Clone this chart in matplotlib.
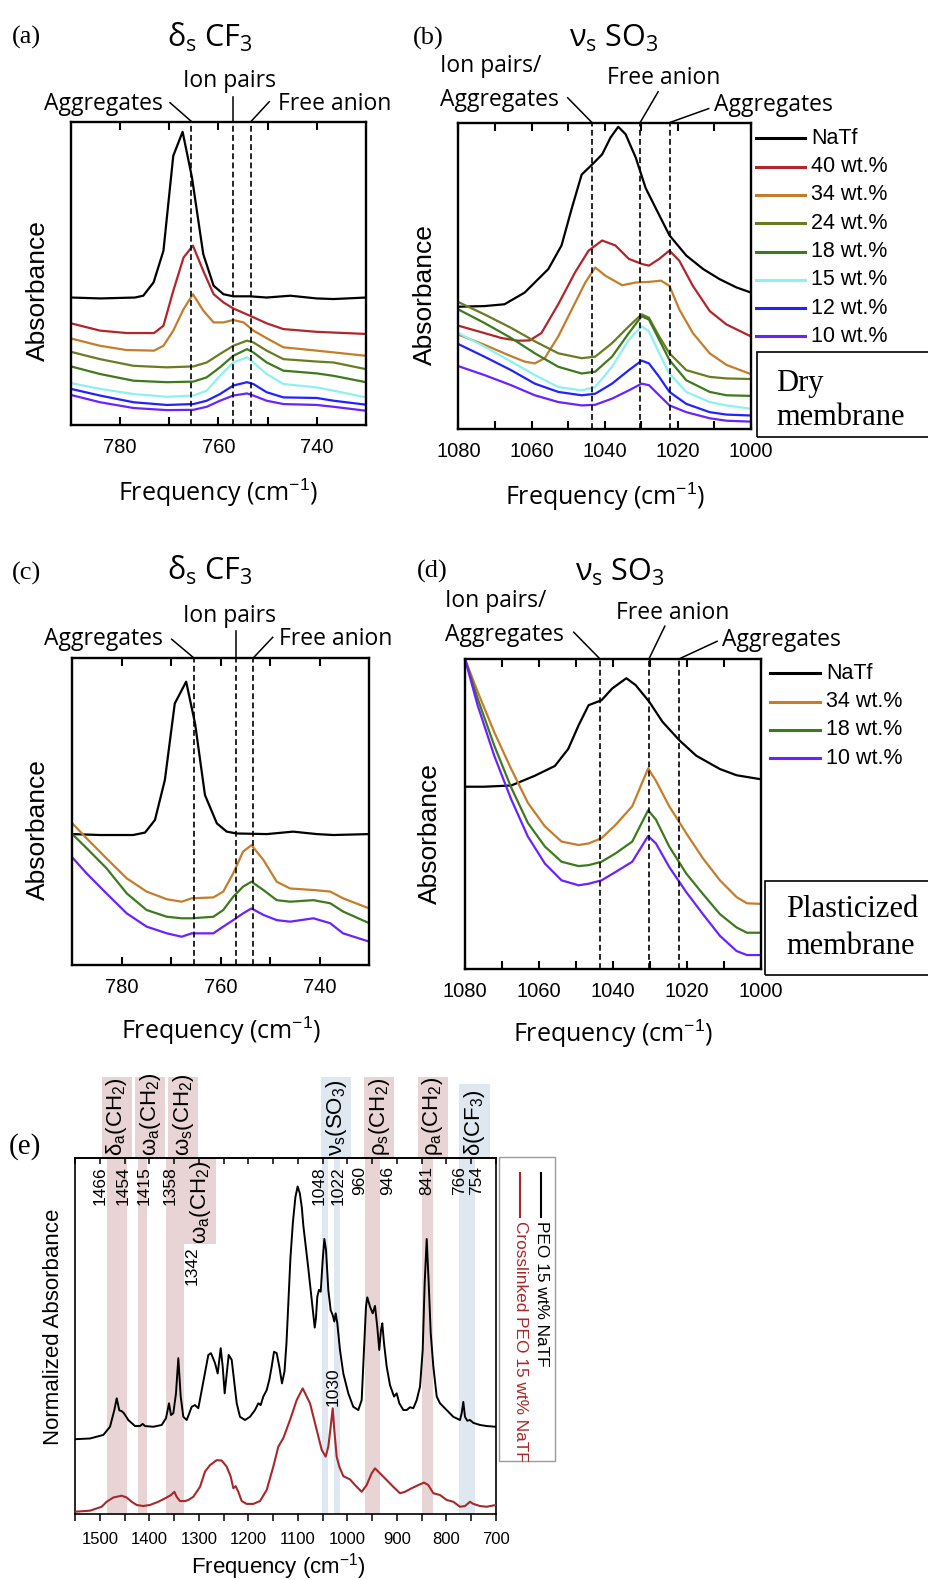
import matplotlib
matplotlib.use("Agg")
import matplotlib.pyplot as plt
import matplotlib.transforms as mtransforms
from matplotlib.patches import Rectangle
from matplotlib.lines import Line2D

plt.rcParams['font.family'] = ['Liberation Sans', 'DejaVu Sans']
plt.rcParams['mathtext.fontset'] = 'custom'
plt.rcParams['mathtext.rm'] = 'Liberation Sans'
plt.rcParams['mathtext.it'] = 'Liberation Sans:italic'
plt.rcParams['mathtext.bf'] = 'Liberation Sans:bold'
plt.rcParams['mathtext.sf'] = 'Liberation Sans'

# ------------------------------------------------------------------ data
# Panel (a): dry membrane, delta_s CF3 (frequency cm-1, absorbance a.u.)
a_x_natf = [790, 784, 777, 775.3, 773.2, 771.2, 769.2, 767.3, 765.4, 763.1, 761, 759, 757, 753.6, 750.2, 745.4, 740, 736.6, 730]
a_y_natf = [42.0, 41.7, 42.0, 42.6, 47.0, 57.4, 88.7, 96.6, 81.6, 56.3, 45.9, 43.1, 42.4, 42.4, 42.0, 42.6, 41.7, 41.5, 42.0]
a_x_40 = [790, 784.1, 778.7, 773.1, 771.2, 769.2, 767.1, 765.2, 763.1, 761, 759, 757, 753.6, 750.2, 746.8, 740, 730]
a_y_40 = [33.5, 31.1, 30.3, 30.3, 32.7, 44.2, 55.2, 59.1, 50.8, 43.1, 40.4, 38.4, 36.0, 33.5, 31.6, 30.7, 30.0]
a_x_34 = [790, 784.1, 778.7, 773.1, 771.2, 769.2, 767.1, 765.2, 763.1, 761.0, 759.0, 757.0, 754.9, 752.9, 750.2, 746.8, 740.0, 730]
a_y_34 = [28.5, 26.1, 24.7, 24.5, 26.1, 31.1, 38.2, 43.1, 37.7, 33.8, 33.8, 34.6, 33.8, 31.1, 28.6, 25.6, 24.5, 22.8]
a_x_low = [790, 784.1, 777.3, 770.5, 765.1, 762.4, 759.7, 757.0, 754.2, 752.9, 750.2, 746.8, 740.0, 736.6, 730]
a_y_24 = [24.1, 21.7, 19.5, 19.0, 19.3, 20.6, 23.4, 26.1, 27.8, 27.2, 24.5, 21.7, 20.9, 20.6, 18.4]
a_y_18 = [19.3, 16.8, 14.6, 14.1, 14.3, 15.7, 19.0, 22.8, 25.0, 23.9, 20.6, 17.9, 17.0, 16.2, 14.1]
a_y_15 = [13.8, 11.9, 10.2, 9.3, 9.7, 11.3, 16.2, 20.6, 22.3, 20.6, 16.8, 13.5, 12.4, 11.3, 9.1]
a_y_12 = [11.9, 9.7, 7.5, 6.6, 6.9, 8.0, 10.2, 13.0, 14.1, 13.5, 10.8, 9.1, 8.9, 8.0, 6.7]
a_y_10 = [9.9, 7.5, 5.6, 4.9, 5.0, 6.0, 8.0, 9.7, 10.4, 9.7, 8.0, 6.9, 6.6, 6.0, 4.7]

# Panel (b): dry membrane, nu_s SO3
b_x_natf = [1080, 1072.9, 1067.4, 1061.9, 1055.4, 1051.8, 1049.0, 1046.3, 1043.0, 1040.7, 1038.4, 1036.3, 1034.3, 1031.5, 1028.8, 1025.1, 1022.3, 1017.7, 1013.1, 1008.6, 1004.0, 1000]
b_y_natf = [39.9, 40.1, 40.7, 44.5, 52.2, 59.9, 72.0, 83.0, 86.8, 89.6, 95.1, 98.6, 96.2, 88.5, 78.6, 69.8, 63.2, 56.6, 52.2, 48.9, 46.2, 44.5]
b_x_40 = [1080, 1072.9, 1068.3, 1063.7, 1060.5, 1057.3, 1052.7, 1048.1, 1044.4, 1040.7, 1037.1, 1033.4, 1029.7, 1027.9, 1025.1, 1022.3, 1019.6, 1015.9, 1011.3, 1006.7, 1000]
b_y_40 = [33.7, 31.3, 29.7, 28.8, 28.9, 31.3, 40.7, 51.1, 58.2, 61.5, 59.9, 55.5, 53.8, 53.3, 55.5, 58.2, 54.9, 46.7, 38.5, 34.1, 30.2]
b_x_34 = [1080, 1072.9, 1066.5, 1061.9, 1059.1, 1056.4, 1052.7, 1049.0, 1045.3, 1042.6, 1039.8, 1035.2, 1031.5, 1027.9, 1024.6, 1022.3, 1019.6, 1015.9, 1011.3, 1006.7, 1000]
b_y_34 = [30.8, 27.5, 24.2, 22.0, 21.4, 23.1, 30.2, 39.0, 47.8, 52.7, 50.0, 46.9, 47.8, 48.0, 48.4, 46.7, 39.0, 31.3, 24.7, 20.9, 17.9]
b_x_low = [1080, 1072.9, 1065.6, 1059.1, 1052.7, 1046.3, 1042.6, 1038.0, 1033.4, 1029.9, 1027.9, 1025.1, 1022.3, 1017.7, 1011.3, 1006.7, 1000]
b_y_24 = [41.4, 37.4, 33.0, 28.6, 24.7, 23.1, 23.6, 28.0, 33.5, 37.4, 36.3, 30.2, 24.7, 19.2, 17.0, 16.5, 16.3]
b_y_18 = [39.0, 34.6, 29.7, 24.7, 20.3, 18.1, 18.7, 23.6, 31.3, 36.8, 35.7, 29.1, 22.5, 15.9, 12.1, 11.0, 10.8]
b_y_15 = [31.3, 26.9, 22.0, 17.6, 13.7, 12.6, 13.7, 20.3, 29.1, 33.5, 31.9, 24.7, 18.1, 12.1, 8.8, 7.7, 6.6]
b_y_12 = [27.7, 23.6, 19.2, 14.8, 12.1, 11.0, 11.5, 14.8, 19.2, 22.3, 21.4, 17.0, 12.1, 8.2, 5.5, 4.7, 4.4]
b_y_10 = [20.5, 17.6, 14.3, 11.0, 8.8, 7.7, 7.9, 9.9, 12.6, 14.8, 14.3, 11.0, 7.7, 5.5, 3.5, 2.7, 2.4]

# Panel (c): plasticized membrane, delta_s CF3
c_x_natf = [790, 784.4, 777.7, 775.3, 773.3, 771.3, 769.3, 767.0, 765.2, 763.2, 760.8, 758.8, 756.8, 750.7, 745.4, 740.6, 737.3, 730]
c_y_natf = [42.6, 42.3, 42.3, 43.1, 47.2, 60.2, 85.1, 92.2, 78.6, 55.3, 46.1, 43.4, 42.8, 42.6, 43.4, 42.6, 42.3, 42.6]
c_x_low = [790, 787.1, 783.1, 779.0, 775.0, 770.9, 767.9, 765.9, 761.5, 759.5, 757.5, 755.5, 753.8, 751.4, 748.7, 746.0, 741.3, 737.9, 735.3, 730]
c_y_34 = [46.1, 41.2, 34.7, 28.2, 23.9, 21.4, 20.6, 21.7, 22.0, 23.9, 29.8, 36.9, 39.0, 34.2, 27.1, 24.9, 24.4, 23.9, 21.7, 18.4]
c_y_18 = [42.6, 38.0, 31.5, 23.3, 17.9, 15.7, 15.2, 15.2, 15.7, 17.9, 22.2, 25.5, 27.1, 24.4, 21.1, 20.6, 21.1, 20.1, 17.4, 13.6]
c_y_10 = [35.0, 29.8, 23.3, 16.8, 12.5, 10.3, 9.2, 10.3, 10.3, 12.5, 14.6, 16.8, 18.4, 16.3, 14.6, 14.1, 15.2, 13.6, 10.3, 7.6]

# Panel (d): plasticized membrane, nu_s SO3
d_x_natf = [1080, 1074.8, 1067.5, 1061.2, 1055.7, 1052.1, 1049.3, 1046.6, 1043.1, 1040.2, 1036.4, 1033.9, 1030.2, 1026.6, 1022.0, 1017.5, 1011.1, 1006.6, 1000]
d_y_natf = [58.8, 58.8, 59.2, 62.3, 65.5, 71.0, 78.6, 85.1, 86.7, 90.5, 93.8, 91.6, 86.2, 79.7, 73.7, 68.8, 64.5, 62.5, 61.2]
d_x_low = [1080, 1076.6, 1072.1, 1067.5, 1063.0, 1058.4, 1053.9, 1049.3, 1046.6, 1043.1, 1039.3, 1034.8, 1030.5, 1028.4, 1024.8, 1020.2, 1015.7, 1011.1, 1006.6, 1003.8, 1000]
d_y_34 = [100, 89.5, 76.4, 64.5, 53.6, 46.0, 41.1, 40.0, 40.5, 42.2, 46.5, 52.5, 64.7, 60.7, 52.5, 43.8, 35.7, 28.6, 23.2, 21.2, 21.0]
d_y_18 = [100, 87.3, 72.1, 58.5, 47.1, 39.5, 34.6, 33.2, 33.5, 34.6, 37.3, 41.1, 51.2, 48.2, 39.5, 30.8, 24.2, 17.7, 13.4, 11.7, 11.7]
d_y_10 = [100, 85.1, 68.8, 54.7, 42.7, 34.0, 28.6, 27.0, 27.5, 28.6, 31.3, 34.6, 42.9, 40.5, 32.9, 24.8, 17.7, 10.7, 5.8, 4.5, 4.5]

# Panel (e): full spectra (frequency, normalized absorbance) as (x, y) pairs
e_peo = [(1550, 20.9), (1519.7, 21.1), (1492.8, 22.1), (1479.3, 24.4), (1470.6, 29.1), (1465.8, 32.4),
         (1460.5, 29.0), (1455.8, 28.8), (1451.1, 28.2), (1442.4, 26.3), (1428.9, 24.6), (1418.8, 24.6),
         (1413.4, 25.2), (1408.7, 24.6), (1391.9, 24.4), (1375.0, 24.9), (1366.3, 26.8), (1360.2, 31.0),
         (1356.2, 27.7), (1351.5, 28.2), (1346.1, 33.8), (1341.4, 43.7), (1336.6, 32.9), (1331.3, 27.2),
         (1324.5, 26.3), (1319.2, 28.2), (1314.5, 30.0), (1307.7, 30.5), (1301.0, 29.6), (1290.9, 37.1),
         (1280.8, 44.6), (1275.4, 45.1), (1267.3, 42.3), (1261.9, 39.4), (1255.8, 46.5), (1251.8, 41.3),
         (1247.8, 33.8), (1243.7, 39.4), (1239.7, 44.6), (1233.6, 43.2), (1228.9, 37.6), (1223.5, 31.0),
         (1216.9, 27.2), (1206.8, 26.3), (1196.7, 27.2), (1186.6, 29.1), (1179.9, 31.0), (1175.1, 30.5),
         (1169.8, 32.9), (1163.0, 34.7), (1157.7, 37.6), (1152.9, 41.3), (1148.2, 45.5), (1142.8, 45.1),
         (1137.5, 41.3), (1132.1, 36.6), (1127, 40), (1123, 48), (1119, 60), (1115, 72), (1110, 82),
         (1105, 89), (1100.5, 92), (1096, 90), (1092, 86), (1089, 81), (1084, 75), (1079, 69), (1072, 60),
         (1066, 52.3), (1063.5, 55), (1060.8, 61.0), (1057.4, 62.9), (1053.9, 62.4), (1049.9, 71.3),
         (1046.6, 77.2), (1043.2, 74.1), (1038.6, 62.9), (1033.8, 57.2), (1029.7, 55.8), (1026.5, 54.0),
         (1023.7, 56.3), (1020.4, 53.5), (1015.0, 46.0), (1008.3, 39.4), (998.2, 33.8), (988.1, 30.0),
         (978.0, 29.1), (971.2, 31.9), (966.5, 46.0), (962.5, 58.2), (959.9, 60.8), (954.4, 58.2),
         (949.0, 56.3), (944.3, 58.4), (939.7, 52.5), (935.7, 46.0), (932.2, 51.6), (929.6, 53.5),
         (926.1, 47.9), (920.7, 41.3), (914.0, 36.1), (905.9, 32.9), (900.5, 33.8), (895.2, 31.0),
         (887.1, 29.1), (880.4, 29.1), (873.6, 29.9), (866.9, 29.6), (860.1, 31.9), (853.4, 35.7),
         (848.0, 46.0), (844.0, 64.8), (839.9, 77.2), (835.9, 64.8), (831.8, 50.7), (826.5, 41.3),
         (819.7, 32.9), (813.1, 31.0), (799.6, 29.1), (786.2, 27.2), (772.7, 26.3), (769.3, 28.2),
         (766.0, 31.4), (762.6, 27.2), (758.0, 26.1), (752.5, 26.3), (745.8, 25.5), (732.3, 24.9),
         (718.8, 24.6), (700, 24.4)]
e_xl = [(1550, 0.5), (1519.7, 0.8), (1496.2, 1.9), (1486.1, 3.3), (1472.6, 4.5), (1455.8, 5.0),
        (1445.7, 4.5), (1435.6, 3.3), (1425.5, 2.4), (1412.1, 2.1), (1398.6, 2.4), (1381.8, 3.3),
        (1364.9, 4.5), (1356.2, 5.2), (1349.4, 6.1), (1344.7, 4.7), (1338.0, 3.5), (1327.9, 3.5),
        (1321.2, 3.8), (1311.1, 4.7), (1297.6, 7.5), (1287.5, 11.8), (1277.4, 13.6), (1264.0, 15.0),
        (1253.9, 14.9), (1243.8, 13.2), (1235.7, 10.4), (1230.3, 7.1), (1225.6, 7.7), (1220.2, 6.1),
        (1213.5, 3.5), (1203.4, 2.7), (1189.9, 2.7), (1176.5, 3.5), (1163.0, 6.6), (1149.6, 13.2),
        (1139.5, 18.8), (1129.4, 21.2), (1115.9, 26.3), (1102.4, 31.9), (1090.3, 35.2), (1075.5, 31.0),
        (1062.0, 23.5), (1051.9, 17.9), (1043.9, 16.0), (1038.6, 18.8), (1033.8, 24.4), (1029.7, 29.6),
        (1026.5, 23.5), (1021.7, 16.0), (1016.4, 13.2), (1008.3, 10.5), (994.8, 9.6), (984.7, 8.0),
        (971.2, 6.1), (961.2, 8.0), (951.1, 11.3), (944.3, 12.7), (934.2, 11.3), (920.7, 9.4),
        (907.3, 7.5), (893.9, 5.7), (883.8, 6.1), (870.3, 7.1), (856.8, 8.0), (845.4, 8.7),
        (836.7, 8.0), (826.5, 5.7), (813.1, 5.2), (799.6, 3.8), (786.2, 3.3), (772.7, 1.9),
        (762.6, 2.1), (752.5, 3.3), (745.8, 2.7), (732.3, 2.1), (718.8, 1.9), (700, 2.4)]

# assignment bands of panel (e): (low, high) in cm-1
e_band_pink = [(1445, 1485), (1405, 1422), (1330, 1366), (934, 964), (827, 850)]
e_band_blue = [(1039, 1052), (1015, 1028), (743, 774)]
e_lab_text = [r'δ$_\mathregular{a}$(CH$_\mathregular{2}$)', r'ω$_\mathregular{a}$(CH$_\mathregular{2}$)',
              r'ω$_\mathregular{s}$(CH$_\mathregular{2}$)', r'ν$_\mathregular{s}$(SO$_\mathregular{3}$)',
              r'ρ$_\mathregular{s}$(CH$_\mathregular{2}$)', r'ρ$_\mathregular{a}$(CH$_\mathregular{2}$)',
              r'δ(CF$_\mathregular{3}$)']
e_lab_lo = [1435, 1367.5, 1301, 992, 905, 796.5, 712]
e_lab_hi = [1496, 1429, 1362.5, 1054, 966, 858, 774.5]
e_lab_kind = ['p', 'p', 'p', 'b', 'p', 'p', 'b']
e_num_text = ['1466', '1454', '1415', '1358', '1048', '1022', '960', '946', '841', '766', '754']
e_num_pos = [1499.5, 1452.5, 1410, 1358, 1056.7, 1018.4, 976, 918.7, 840, 772.7, 739]

labels_dry = ['NaTf', '40 wt.%', '34 wt.%', '24 wt.%', '18 wt.%', '15 wt.%', '12 wt.%', '10 wt.%']
labels_pl = ['NaTf', '34 wt.%', '18 wt.%', '10 wt.%']

COL = {'NaTf': '#000000', '40 wt.%': '#b0262a', '34 wt.%': '#c47d2a', '24 wt.%': '#6b7b22',
       '18 wt.%': '#3d7a1e', '15 wt.%': '#8ef0f0', '12 wt.%': '#2222ff', '10 wt.%': '#6a22ff'}
PINK = '#e8d4d4'
BLUE = '#dfe7f0'
RED_E = '#a8282a'

# ------------------------------------------------------------------ figure
W, H = 929, 1580
fig = plt.figure(figsize=(W / 100, H / 100), dpi=100)

SANS2 = ['Open Sans', 'DejaVu Sans']
SERIF = ['Liberation Serif', 'DejaVu Serif']


def add_ax(L, T, R, B):
    return fig.add_axes([L / W, 1 - B / H, (R - L) / W, (B - T) / H])


def ftext(x, y, s, **kw):
    return fig.text(x / W, 1 - y / H, s, **kw)


def fline(xs, ys, **kw):
    kw.setdefault('color', 'k')
    kw.setdefault('lw', 1.1)
    fig.add_artist(Line2D([x / W for x in xs], [1 - y / H for y in ys],
                          transform=fig.transFigure, **kw))


def top_px(ax, v):
    X, Y = ax.transData.transform((v, 100))
    return X, H - Y


def small_panel(ax, xlim, majors, minors, dashes):
    ax.set_xlim(*xlim)
    ax.set_ylim(0, 100)
    ax.set_xticks(majors)
    ax.set_xticks(minors, minor=True)
    ax.set_yticks([])
    ax.tick_params(axis='x', which='both', direction='in', top=True, bottom=True,
                   length=6, width=1.5, pad=9.5, labelsize=14.5)
    for sp in ax.spines.values():
        sp.set_linewidth(1.7)
    for v in dashes:
        ax.axvline(v, color='k', lw=1.2, ls=(0, (3.5, 2)), zorder=3)


def connector(ax, v, x0, y0):
    X, Y = top_px(ax, v)
    fline([x0, X], [y0, Y])


def legend_block(x0, x1, xt, y0, dy, labels):
    for i, lab in enumerate(labels):
        y = y0 + i * dy
        fline([x0, x1], [y, y], color=COL[lab], lw=2.2)
        ftext(xt, y, lab, size=15.5, ha='left', va='center')


def note_box(L, T, B, lines, xt, ys):
    fig.add_artist(Rectangle((L / W, 1 - B / H), (W + 5 - L) / W, (B - T) / H,
                             transform=fig.transFigure, fill=False, ec='k', lw=1.2))
    for s, y in zip(lines, ys):
        ftext(xt, y, s, family=SERIF, size=22, ha='left', va='center')


FREQ = r'Frequency (cm$^{-1}$)'
TITLE_CF3 = r'δ$_\mathregular{s}$ CF$_\mathregular{3}$'
TITLE_SO3 = r'ν$_\mathregular{s}$ SO$_\mathregular{3}$'
DASH_CF3 = [765.5, 757, 753.4]
DASH_SO3 = [1043.5, 1030.3, 1022.2]

# ---------------- (a)
axa = add_ax(71, 121.5, 366, 425)
small_panel(axa, (790, 730), [780, 760, 740], [770, 750], DASH_CF3)
axa.plot(a_x_natf, a_y_natf, color=COL['NaTf'], lw=1.6)
axa.plot(a_x_40, a_y_40, color=COL['40 wt.%'], lw=1.6)
axa.plot(a_x_34, a_y_34, color=COL['34 wt.%'], lw=1.6)
for yy, lab in [(a_y_24, '24 wt.%'), (a_y_18, '18 wt.%'), (a_y_15, '15 wt.%'),
                (a_y_12, '12 wt.%'), (a_y_10, '10 wt.%')]:
    axa.plot(a_x_low, yy, color=COL[lab], lw=1.6)
ftext(12, 44, '(a)', family=SERIF, size=19, va='baseline')
ftext(166.7, 47, TITLE_CF3, family=SANS2, size=22, va='baseline')
ftext(230, 87, 'Ion pairs', family=SANS2, size=16.5, ha='center', va='baseline')
ftext(163, 110, 'Aggregates', family=SANS2, size=16.5, ha='right', va='baseline')
ftext(277.7, 110, 'Free anion', family=SANS2, size=16.5, ha='left', va='baseline')
connector(axa, DASH_CF3[0], 170, 102.7)
Xp, Yp = top_px(axa, DASH_CF3[1])
fline([Xp, Xp], [96.7, Yp])
connector(axa, DASH_CF3[2], 269.3, 101.7)
ftext(38.3, 291, 'Absorbance', size=19, rotation=90, ha='center', va='center')
ftext(218.5, 493, FREQ, family=SANS2, size=18, ha='center', va='center')

# ---------------- (b)
axb = add_ax(458.4, 122.5, 751, 429)
small_panel(axb, (1080, 1000), [1080, 1060, 1040, 1020, 1000], [1070, 1050, 1030, 1010], DASH_SO3)
axb.plot(b_x_natf, b_y_natf, color=COL['NaTf'], lw=1.6)
axb.plot(b_x_40, b_y_40, color=COL['40 wt.%'], lw=1.6)
axb.plot(b_x_34, b_y_34, color=COL['34 wt.%'], lw=1.6)
for yy, lab in [(b_y_24, '24 wt.%'), (b_y_18, '18 wt.%'), (b_y_15, '15 wt.%'),
                (b_y_12, '12 wt.%'), (b_y_10, '10 wt.%')]:
    axb.plot(b_x_low, yy, color=COL[lab], lw=1.6)
ftext(412.8, 44.5, '(b)', family=SERIF, size=19, va='baseline')
ftext(568.7, 47, TITLE_SO3, family=SANS2, size=22, va='baseline')
ftext(440.5, 72.5, 'Ion pairs/', family=SANS2, size=16.5, ha='left', va='baseline')
ftext(440.5, 106.3, 'Aggregates', family=SANS2, size=16.5, ha='left', va='baseline')
ftext(607.5, 84.3, 'Free anion', family=SANS2, size=16.5, ha='left', va='baseline')
ftext(713.8, 111.3, 'Aggregates', family=SANS2, size=16.5, ha='left', va='baseline')
connector(axb, DASH_SO3[0], 567.7, 97.8)
connector(axb, DASH_SO3[1], 658.1, 91.8)
connector(axb, DASH_SO3[2], 708.7, 108.6)
ftext(425.3, 294.3, 'Absorbance', size=19, rotation=90, ha='center', va='center')
ftext(605, 497, FREQ, family=SANS2, size=18, ha='center', va='center')
legend_block(756, 805, 811, 138.3, 28.3, labels_dry)
note_box(756.6, 351.9, 437.5, ['Dry', 'membrane'], 776.2, [383, 417.7])

# ---------------- (c)
axc = add_ax(72.3, 657.7, 369.3, 965)
small_panel(axc, (790, 730), [780, 760, 740], [770, 750], DASH_CF3)
axc.plot(c_x_natf, c_y_natf, color=COL['NaTf'], lw=1.6)
for yy, lab in [(c_y_34, '34 wt.%'), (c_y_18, '18 wt.%'), (c_y_10, '10 wt.%')]:
    axc.plot(c_x_low, yy, color=COL[lab], lw=1.6)
ftext(11.7, 579.3, '(c)', family=SERIF, size=19, va='baseline')
ftext(166.7, 580, TITLE_CF3, family=SANS2, size=22, va='baseline')
ftext(230, 621.7, 'Ion pairs', family=SANS2, size=16.5, ha='center', va='baseline')
ftext(163.3, 645, 'Aggregates', family=SANS2, size=16.5, ha='right', va='baseline')
ftext(279.3, 645, 'Free anion', family=SANS2, size=16.5, ha='left', va='baseline')
connector(axc, DASH_CF3[0], 171.7, 639.3)
Xp, Yp = top_px(axc, DASH_CF3[1])
fline([Xp, Xp], [630.7, Yp])
connector(axc, DASH_CF3[2], 272.7, 637.3)
ftext(38.3, 830, 'Absorbance', size=19, rotation=90, ha='center', va='center')
ftext(221, 1031, FREQ, family=SANS2, size=18, ha='center', va='center')

# ---------------- (d)
axd = add_ax(465, 659, 761, 969)
small_panel(axd, (1080, 1000), [1080, 1060, 1040, 1020, 1000], [1070, 1050, 1030, 1010], DASH_SO3)
axd.plot(d_x_natf, d_y_natf, color=COL['NaTf'], lw=1.6)
for yy, lab in [(d_y_34, '34 wt.%'), (d_y_18, '18 wt.%'), (d_y_10, '10 wt.%')]:
    axd.plot(d_x_low, yy, color=COL[lab], lw=1.6)
ftext(416.9, 577.2, '(d)', family=SERIF, size=19, va='baseline')
ftext(575.4, 580.6, TITLE_SO3, family=SANS2, size=22, va='baseline')
ftext(445.5, 606.9, 'Ion pairs/', family=SANS2, size=16.5, ha='left', va='baseline')
ftext(445.5, 641.3, 'Aggregates', family=SANS2, size=16.5, ha='left', va='baseline')
ftext(615.9, 619.4, 'Free anion', family=SANS2, size=16.5, ha='left', va='baseline')
ftext(722.2, 646.4, 'Aggregates', family=SANS2, size=16.5, ha='left', va='baseline')
connector(axd, DASH_SO3[0], 573.7, 632.2)
connector(axd, DASH_SO3[1], 664.8, 626.2)
connector(axd, DASH_SO3[2], 717.1, 641.3)
ftext(430.4, 833.6, 'Absorbance', size=19, rotation=90, ha='center', va='center')
ftext(613.4, 1034, FREQ, family=SANS2, size=18, ha='center', va='center')
legend_block(770.4, 820, 825.8, 673.4, 28.2, labels_pl)
note_box(765.4, 880.9, 975.3, ['Plasticized', 'membrane'], 786.3, [909.6, 946.7])

# ---------------- (e)
E_T, E_B = 1158, 1513.5
axe = add_ax(75, E_T, 496, E_B)
axe.set_xlim(1550, 700)
axe.set_ylim(0, 100)
axe.set_yticks([])
axe.set_xticks(range(700, 1501, 100))
axe.set_xticks(range(750, 1551, 100), minor=True)
axe.tick_params(axis='x', which='both', direction='out', length=5, width=1.1, pad=8, labelsize=12)
for sp in axe.spines.values():
    sp.set_linewidth(1.2)
sec = axe.secondary_xaxis('top')
sec.set_xticks(list(range(700, 1551, 50)))
sec.tick_params(axis='x', direction='in', length=4.5, width=1.1, labeltop=False, labelbottom=False)
sec.spines['top'].set_linewidth(1.2)

blend = mtransforms.blended_transform_factory(axe.transData, axe.transAxes)


def ay(Ypx):
    return (E_B - Ypx) / (E_B - E_T)


for lo, hi in e_band_pink:
    axe.axvspan(lo, hi, color=PINK, lw=0, zorder=0)
for lo, hi in e_band_blue:
    axe.axvspan(lo, hi, color=BLUE, lw=0, zorder=0)
for s, lo, hi, kind in zip(e_lab_text, e_lab_lo, e_lab_hi, e_lab_kind):
    top = ay(1084) if s.startswith('δ(') else ay(1077)
    axe.add_patch(Rectangle((lo, 1.0), hi - lo, top - 1.0, transform=blend, clip_on=False,
                            color=PINK if kind == 'p' else BLUE, lw=0, zorder=0))
    axe.text((lo + hi) / 2, 1.006, s, transform=blend, rotation=90, ha='center', va='bottom',
             size=16, clip_on=False)
# omega_a(CH2) label hanging into the plot at 1342
axe.add_patch(Rectangle((1265, ay(1244)), 65, 1.0 - ay(1244), transform=blend,
                        color=PINK, lw=0, zorder=0))
axe.text(1297.5, ay(1160), r'ω$_\mathregular{a}$(CH$_\mathregular{2}$)', transform=blend, rotation=90,
         ha='center', va='top', size=16)
axe.text(1314.4, ay(1246), '1342', transform=blend, rotation=90, ha='center', va='top', size=12.5)
for s, p in zip(e_num_text, e_num_pos):
    axe.text(p, ay(1166), s, transform=blend, rotation=90, ha='center', va='top', size=12.5)

axe.plot([p[0] for p in e_peo], [p[1] for p in e_peo], color='k', lw=1.4, zorder=3)
axe.plot([p[0] for p in e_xl], [p[1] for p in e_xl], color=RED_E, lw=1.5, zorder=3)
axe.text(1029.7, ay(1406), '1030', transform=blend, rotation=90, ha='center', va='bottom', size=12.5)

ftext(9, 1147, '(e)', family=SERIF, size=21, va='center')
ftext(53.3, 1326.7, 'Normalized Absorbance', size=16, rotation=90, ha='center', va='center')
ftext(278, 1567, FREQ, size=16, ha='center', va='center')

# legend of (e) (vertical)
fig.add_artist(Rectangle((499 / W, 1 - 1461 / H), 56 / W, (1461 - 1157) / H,
                         transform=fig.transFigure, fill=False, ec='#9a9a9a', lw=1.0))
fline([541, 541], [1173, 1217], color='k', lw=1.5)
ftext(541.5, 1221, 'PEO 15 wt% NaTF', size=12.4, rotation=270, ha='center', va='top')
fline([520, 520], [1173, 1217], color=RED_E, lw=1.5)
ftext(521, 1221, 'Crosslinked PEO 15 wt% NaTF', size=12.4, rotation=270, ha='center', va='top',
      color=RED_E)

fig.savefig('out.png', dpi=100)
